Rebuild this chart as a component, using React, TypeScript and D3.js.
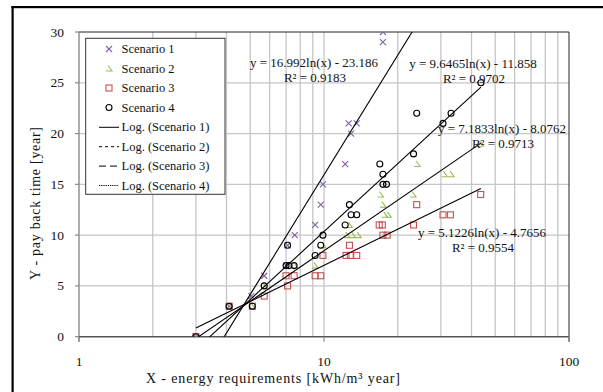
import * as d3 from 'd3';

// Scenario data (x = energy requirement, y = pay back time)
const s1X = [3, 4.1, 5.05, 5.7, 7.0, 7.1, 7.6, 9.2, 9.7, 9.9, 12.2, 12.6, 12.9, 13.6, 17.4, 17.4];
const s1Y = [0, 3, 4, 6, 7, 9, 10, 11, 13, 15, 17, 21, 20, 21, 29, 30];

const s2X = [3, 4.1, 5.1, 5.7, 7.6, 9.2, 9.9, 12.4, 12.7, 13.1, 13.8, 17.0, 17.4, 17.7, 18.3, 23.1, 24.0, 31.0, 33.0, 43.6];
const s2Y = [0, 3, 3, 5, 7, 7, 9, 10, 11, 10, 10, 14, 13, 12, 12, 14, 17, 16, 16, 19];

const s3X = [3, 4.1, 5.1, 5.7, 7.0, 7.1, 7.55, 9.2, 9.7, 9.9, 12.3, 12.7, 12.8, 13.6, 16.8, 17.3, 17.4, 18.1, 23.2, 23.9, 30.6, 32.8, 43.6];
const s3Y = [0, 3, 3, 4, 6, 5, 6, 6, 6, 8, 8, 9, 8, 8, 11, 11, 10, 10, 11, 13, 12, 12, 14];

const s4X = [3, 4.1, 5.1, 5.7, 7.0, 7.2, 7.1, 7.55, 9.2, 9.7, 9.9, 12.2, 12.7, 12.9, 13.6, 16.9, 17.4, 17.4, 18.0, 23.2, 23.9, 30.6, 33.0, 43.7];
const s4Y = [0, 3, 3, 5, 7, 7, 9, 7, 8, 9, 10, 11, 13, 12, 12, 17, 16, 15, 15, 18, 22, 21, 22, 25];

const seriesNames = ['Scenario 1', 'Scenario 2', 'Scenario 3', 'Scenario 4'];
const trendNames = ['Log. (Scenario 1)', 'Log. (Scenario 2)', 'Log. (Scenario 3)', 'Log. (Scenario 4)'];

// log trendlines y = a ln(x) + b
const trendA = [16.992, 7.1833, 5.1226, 9.6465];
const trendB = [-23.186, -8.0762, -4.7656, -11.858];
const trendR2 = ['0.9183', '0.9713', '0.9554', '0.9702'];
const trendXRange = [3, 43.7];

const xTickLabels = [1, 10, 100];
const yTickLabels = [0, 5, 10, 15, 20, 25, 30];

const W = 603, H = 392;
const L = 79, R = 569, T = 32, B = 336.7;
const FONT = 'Liberation Serif, DejaVu Serif, serif';
const colors = ['#7e62a6', '#9bbb59', '#c8504d', '#000000'];

// where each equation label sits (centre x, y of the equation line)
const eqPos = [[314, 62], [502, 128], [482, 232], [473, 63]];
const legendDash = ['', '3,3', '7,4', '1.2,1'];

function Marker({ kind, x, y }: { kind: number; x: number; y: number }) {
  const c = colors[kind];
  if (kind === 0)
    return <path d={`M${x - 3},${y - 3}L${x + 3},${y + 3}M${x - 3},${y + 3}L${x + 3},${y - 3}`} stroke={c} strokeWidth={1.1} fill="none" />;
  if (kind === 1)
    return <path d={`M${x - 1},${y - 3}L${x + 3},${y + 2.5}L${x - 3},${y + 2.5}`} stroke={c} strokeWidth={1.1} fill="none" />;
  if (kind === 2)
    return <rect x={x - 3} y={y - 3} width={6} height={6} stroke={c} strokeWidth={1.1} fill="none" />;
  return <circle cx={x} cy={y} r={3} stroke={c} strokeWidth={1.1} fill="none" />;
}

export default function App() {
  const xs = d3.scaleLog().domain([1, 100]).range([L, R]);
  const ys = d3.scaleLinear().domain([0, 30]).range([B, T]);

  const series = [
    d3.zip(s1X, s1Y),
    d3.zip(s2X, s2Y),
    d3.zip(s3X, s3Y),
    d3.zip(s4X, s4Y),
  ];

  const gridX = xs.ticks().filter(v => v > 1 && v < 100);
  const gridY = ys.ticks(6).filter(v => v > 0 && v < 30);

  return (
    <svg width={W} height={H} style={{ position: 'absolute', left: 0, top: 0, background: '#fff', display: 'block' }}>
      <defs>
        <clipPath id="plot">
          <rect x={L} y={T} width={R - L} height={B - T} />
        </clipPath>
      </defs>
      {/* outer frame (runs off the right and bottom of the picture) */}
      <rect x={11.5} y={6} width={W - 11.5} height={2.2} fill="#000" />
      <rect x={11.5} y={6} width={2.2} height={H - 6} fill="#000" />

      {/* grid */}
      {gridX.map(v => (
        <line key={'gx' + v} x1={xs(v)} x2={xs(v)} y1={T} y2={B} stroke="#c6c6c6" strokeWidth={1.3} />
      ))}
      {gridY.map(v => (
        <line key={'gy' + v} x1={L} x2={R} y1={ys(v)} y2={ys(v)} stroke="#c6c6c6" strokeWidth={1.3} />
      ))}

      {/* frame of plot area */}
      <line x1={L} x2={R} y1={T} y2={T} stroke="#222" strokeWidth={1} />
      <line x1={R} x2={R} y1={T} y2={B + 5} stroke="#222" strokeWidth={1} />
      <line x1={L} x2={L} y1={T} y2={B + 5} stroke="#8a8a8a" strokeWidth={1.4} />
      <line x1={L} x2={R} y1={B} y2={B} stroke="#555" strokeWidth={1.4} />
      {yTickLabels.map(v => (
        <line key={'yt' + v} x1={L - 4} x2={L} y1={ys(v)} y2={ys(v)} stroke="#8a8a8a" strokeWidth={1.2} />
      ))}
      {xTickLabels.map(v => (
        <line key={'xt' + v} x1={xs(v)} x2={xs(v)} y1={B} y2={B + 5} stroke="#8a8a8a" strokeWidth={1.2} />
      ))}

      <g fontFamily={FONT} fill="#111">
        {/* tick labels */}
        {yTickLabels.map(v => (
          <text key={'yl' + v} x={64} y={ys(v)} textAnchor="end" dominantBaseline="central" fontSize={13.5}>{v}</text>
        ))}
        {xTickLabels.map(v => (
          <text key={'xl' + v} x={xs(v)} y={361} textAnchor="middle" dominantBaseline="central" fontSize={13.5}>{v}</text>
        ))}

        {/* axis titles */}
        <text x={273} y={378} textAnchor="middle" dominantBaseline="central" fontSize={14} textLength={254} lengthAdjust="spacing">
          X - energy requirements [kWh/m³ year]
        </text>
        <text transform="translate(35,203.5) rotate(-90)" textAnchor="middle" dominantBaseline="central" fontSize={14} textLength={153} lengthAdjust="spacing">
          Y - pay back time [year]
        </text>
      </g>

      {/* markers */}
      {series.map((pts, k) => (
        <g key={'s' + k} clipPath="url(#plot)">
          {pts.map((p, i) => <Marker key={i} kind={k} x={xs(p[0])} y={ys(p[1])} />)}
        </g>
      ))}

      {/* trendlines */}
      <g clipPath="url(#plot)">
        {trendA.map((a, k) => {
          const pts = trendXRange.map(x => [xs(x), ys(a * Math.log(x) + trendB[k])] as [number, number]);
          return <path key={'tl' + k} d={d3.line()(pts) || ''} stroke="#000" strokeWidth={1.1} fill="none" />;
        })}
      </g>

      {/* equations */}
      {trendA.map((a, k) => (
        <g key={'eq' + k} fontFamily={FONT} fontSize={13} fill="#111" textAnchor="middle">
          <text x={eqPos[k][0]} y={eqPos[k][1]} dominantBaseline="central">
            {`y = ${a}ln(x) - ${Math.abs(trendB[k])}`}
          </text>
          <text x={eqPos[k][0] + 1} y={eqPos[k][1] + 15} dominantBaseline="central">
            {`R² = ${trendR2[k]}`}
          </text>
        </g>
      ))}

      {/* legend */}
      <g fontFamily={FONT}>
        <rect x={85.7} y={38.3} width={139.3} height={156} fill="#fff" stroke="#333" strokeWidth={1} />
        {seriesNames.map((n, k) => (
          <g key={'lg' + k}>
            <Marker kind={k} x={109} y={49 + k * 19.5} />
            <text x={121.5} y={49 + k * 19.5} dominantBaseline="central" fontSize={12.5} fill="#111">{n}</text>
          </g>
        ))}
        {trendNames.map((n, k) => (
          <g key={'lt' + k}>
            <line x1={99} x2={119} y1={127.3 + k * 19.4} y2={127.3 + k * 19.4} stroke="#000" strokeWidth={1} strokeDasharray={legendDash[k] || undefined} />
            <text x={121.5} y={127.3 + k * 19.4} dominantBaseline="central" fontSize={12.5} fill="#111">{n}</text>
          </g>
        ))}
      </g>
    </svg>
  );
}
